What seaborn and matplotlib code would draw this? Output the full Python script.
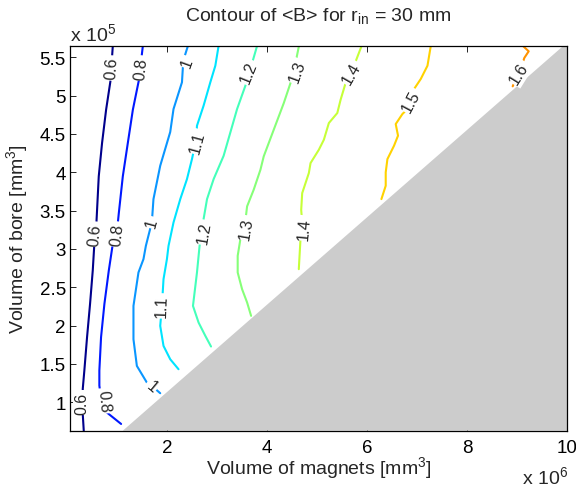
import numpy as np
import pandas as pd
import matplotlib
matplotlib.use("Agg")
import matplotlib.pyplot as plt
import seaborn as sns

# ---- data (x in 10^6 mm^3, y in 10^5 mm^3) ----
levels = ["0.6", "0.8", "1", "1.1", "1.2", "1.3", "1.4", "1.5", "1.6"]

c06_x = [0.918, 0.870, 0.784, 0.703, 0.637, 0.590, 0.549, 0.517, 0.463, 0.403, 0.349, 0.317, 0.317, 0.337]
c06_y = [5.651, 5.187, 4.816, 4.381, 3.947, 3.337, 3.067, 2.719, 2.283, 1.849, 1.414, 1.174, 0.847, 0.629]

c08_x = [1.519, 1.439, 1.319, 1.218, 1.118, 1.038, 1.018, 0.918, 0.838, 0.750, 0.683, 0.649, 0.649, 0.683, 0.750, 0.918, 1.084]
c08_y = [5.651, 5.200, 4.816, 4.381, 3.947, 3.467, 3.337, 3.067, 2.719, 2.283, 1.849, 1.414, 1.218, 1.039, 0.892, 0.804, 0.717]

c10_x = [2.421, 2.327, 2.301, 2.132, 2.066, 1.866, 1.731, 1.699, 1.579, 1.531, 1.431, 1.331, 1.331, 1.399, 1.599, 1.699, 1.866]
c10_y = [5.651, 5.456, 5.174, 4.825, 4.525, 4.085, 3.650, 3.350, 3.040, 2.867, 2.693, 2.257, 1.822, 1.474, 1.257, 1.213, 1.118]

c11_x = [3.034, 2.968, 2.868, 2.733, 2.601, 2.587, 2.501, 2.401, 2.267, 2.132, 2.032, 2.000, 1.932, 1.900, 1.866, 1.932, 2.066, 2.232]
c11_y = [5.651, 5.390, 5.174, 4.868, 4.607, 4.434, 4.172, 3.911, 3.650, 3.346, 3.040, 2.867, 2.606, 2.257, 1.996, 1.735, 1.561, 1.431]

c12_x = [3.804, 3.669, 3.569, 3.403, 3.269, 3.134, 2.934, 2.802, 2.733, 2.687, 2.653, 2.601, 2.521, 2.633, 2.768, 2.882]
c12_y = [5.651, 5.347, 5.129, 4.825, 4.521, 4.215, 3.911, 3.650, 3.389, 3.193, 3.040, 2.693, 2.257, 2.040, 1.866, 1.727]

c13_x = [4.641, 4.571, 4.471, 4.337, 4.136, 3.936, 3.870, 3.735, 3.603, 3.549, 3.469, 3.415, 3.415, 3.503, 3.603, 3.683]
c13_y = [5.651, 5.426, 5.164, 4.903, 4.555, 4.208, 4.033, 3.772, 3.555, 3.258, 3.128, 2.910, 2.693, 2.475, 2.302, 2.127]

c14_x = [5.894, 5.739, 5.573, 5.473, 5.407, 5.238, 5.138, 5.038, 4.872, 4.838, 4.705, 4.685, 4.711, 4.671, 4.637]
c14_y = [5.651, 5.386, 5.164, 4.946, 4.773, 4.642, 4.424, 4.294, 4.120, 3.990, 3.728, 3.510, 3.285, 3.128, 2.736]

c15_x = [7.277, 7.210, 7.076, 6.942, 6.810, 6.709, 6.575, 6.621, 6.541, 6.409, 6.375, 6.375, 6.289]
c15_y = [5.651, 5.390, 5.217, 5.086, 4.825, 4.760, 4.629, 4.477, 4.346, 4.172, 3.999, 3.824, 3.650]

c16_x = [9.114, 9.234, 9.146, 9.114, 8.914]
c16_y = [5.651, 5.578, 5.491, 5.426, 5.121]

# contour labels: text, x, y, rotation
lab_text = ["0.6", "0.8", "0.6", "0.8", "0.6", "0.8", "1", "1", "1", "1.1", "1.1",
            "1.2", "1.2", "1.3", "1.3", "1.4", "1.4", "1.5", "1.6"]
lab_x = [0.894, 1.475, 0.563, 0.998, 0.297, 0.729, 2.401, 1.699, 1.699, 2.613, 1.886,
         3.635, 2.747, 4.605, 3.589, 5.687, 4.752, 6.876, 9.046]
lab_y = [5.360, 5.360, 3.193, 3.193, 0.996, 1.017, 5.435, 3.346, 1.213, 4.398, 2.257,
         5.304, 3.215, 5.317, 3.272, 5.295, 3.272, 4.933, 5.295]
lab_rot = [86, 84, 85, 83, 90, -85, 70, 75, -40, 75, 88,
           68, 80, 70, 80, 60, 85, 62, 58]

# infeasible (shaded) region boundary
gray_x = [1.118, 9.93, 10.0, 10.0]
gray_y = [0.629, 5.651, 5.651, 0.629]

x_ticks = [2, 4, 6, 8, 10]
x_ticklabels = ["2", "4", "6", "8", "10"]
y_ticks = [1, 1.5, 2, 2.5, 3, 3.5, 4, 4.5, 5, 5.5]
y_ticklabels = ["1", "1.5", "2", "2.5", "3", "3.5", "4", "4.5", "5", "5.5"]

colors = ["#00008C", "#0018FF", "#0A96FF", "#00E4FF", "#44FFBA",
          "#86FF78", "#C6FF38", "#FFD200", "#FF9300"]

# ---- build long table ----
xs = [c06_x, c08_x, c10_x, c11_x, c12_x, c13_x, c14_x, c15_x, c16_x]
ys = [c06_y, c08_y, c10_y, c11_y, c12_y, c13_y, c14_y, c15_y, c16_y]
rows = []
for lev, lx, ly in zip(levels, xs, ys):
    for i, (a, b) in enumerate(zip(lx, ly)):
        rows.append({"level": lev, "x": a, "y": b, "i": i})
df = pd.DataFrame(rows)

sns.set_style("ticks")
plt.rcParams["font.family"] = ["Liberation Sans", "DejaVu Sans"]
plt.rcParams["mathtext.fontset"] = "custom"
plt.rcParams["mathtext.rm"] = "Liberation Sans"

FS = 14

fig = plt.figure(figsize=(5.76, 4.89), dpi=100)
ax = fig.add_axes([70 / 576, 1 - 431.7 / 489, 497 / 576, 385 / 489])

ax.fill(gray_x, gray_y, color="#CCCCCC", lw=0, zorder=1)

sns.lineplot(data=df, x="x", y="y", hue="level", hue_order=levels,
             palette=dict(zip(levels, colors)), sort=False, estimator=None,
             legend=False, lw=1.5, ax=ax, zorder=2)

for t, lx, ly, r in zip(lab_text, lab_x, lab_y, lab_rot):
    ax.text(lx, ly, t, rotation=r, rotation_mode="anchor", ha="center", va="center",
            fontsize=11.5, zorder=5,
            bbox=dict(boxstyle="square,pad=0.1", fc="white", ec="none"))

ax.set_xlim(0.062, 10.0)
ax.set_ylim(0.629, 5.651)
ax.set_xticks(x_ticks)
ax.set_xticklabels(x_ticklabels)
ax.set_yticks(y_ticks)
ax.set_yticklabels(y_ticklabels)
ax.tick_params(direction="in", top=True, right=True, length=4, width=0.6,
               labelsize=13.5, colors="black")
ax.tick_params(axis="x", pad=6)
ax.tick_params(axis="y", pad=3)
for s in ax.spines.values():
    s.set_visible(True)
    s.set_linewidth(0.9)
    s.set_color("black")

ax.set_xlabel(r"Volume of magnets [mm$^\mathregular{3}$]", fontsize=FS)
ax.set_ylabel(r"Volume of bore [mm$^\mathregular{3}$]", fontsize=FS)
ax.xaxis.set_label_coords(0.5, -0.062)
ax.yaxis.set_label_coords(-0.078, 0.5)

fig.text(318 / 576, 1 - 21.7 / 489, r"Contour of <B> for r$_\mathregular{in}$ = 30 mm",
         ha="center", va="baseline", fontsize=FS)
fig.text(70 / 576, 1 - 41.7 / 489, r"x 10$^\mathregular{5}$", ha="left", va="baseline", fontsize=FS)
fig.text(568 / 576, 1 - 485 / 489, r"x 10$^\mathregular{6}$", ha="right", va="baseline", fontsize=FS)

fig.savefig("out.png", dpi=100)
